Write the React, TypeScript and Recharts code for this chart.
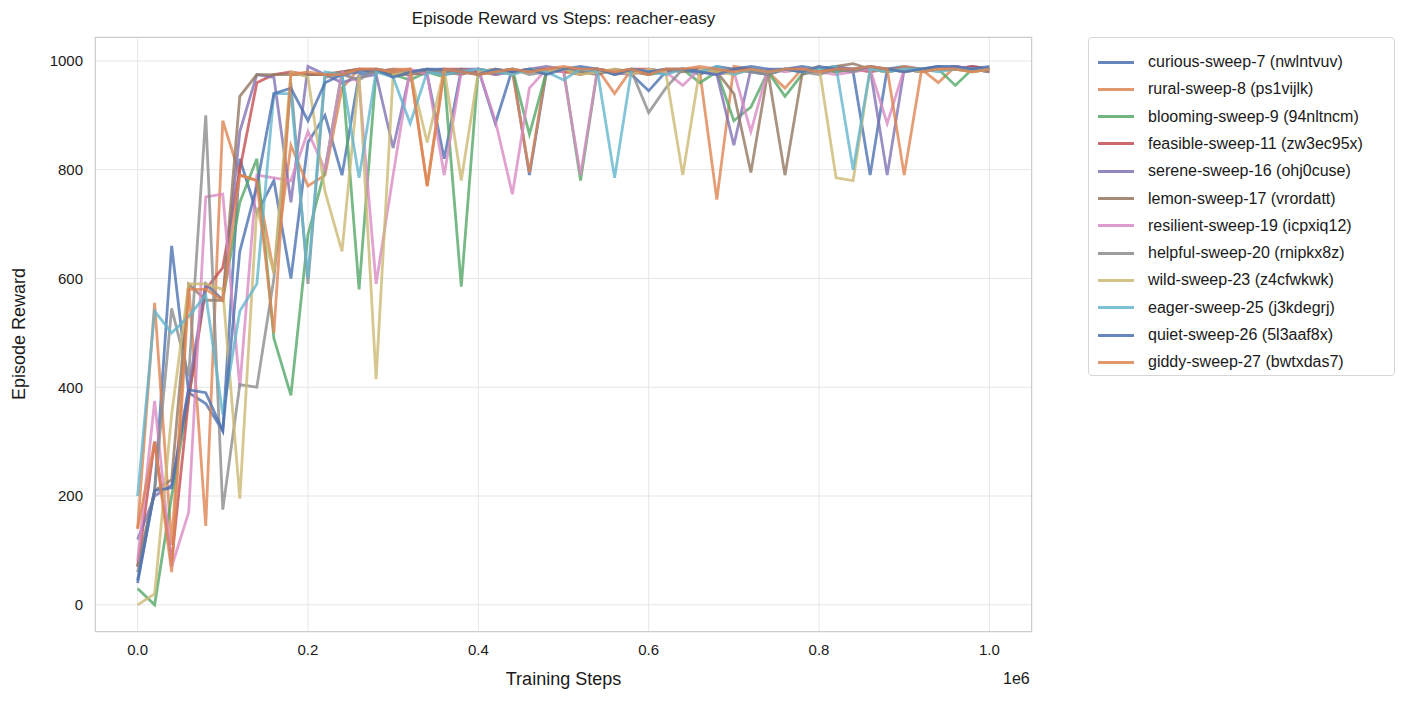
import React from "react";
import { LineChart, Line, XAxis, YAxis, CartesianGrid } from "recharts";

const steps = Array.from({ length: 51 }, (_, i) => i * 20000);
const xTicks = [0, 200000, 400000, 600000, 800000, 1000000];
const yTicks = [0, 200, 400, 600, 800, 1000];

const runNames = [
  "curious-sweep-7 (nwlntvuv)",
  "rural-sweep-8 (ps1vijlk)",
  "blooming-sweep-9 (94nltncm)",
  "feasible-sweep-11 (zw3ec95x)",
  "serene-sweep-16 (ohj0cuse)",
  "lemon-sweep-17 (vrordatt)",
  "resilient-sweep-19 (icpxiq12)",
  "helpful-sweep-20 (rnipkx8z)",
  "wild-sweep-23 (z4cfwkwk)",
  "eager-sweep-25 (j3kdegrj)",
  "quiet-sweep-26 (5l3aaf8x)",
  "giddy-sweep-27 (bwtxdas7)",
];

const colors = [
  "#4C72B0", "#DD8452", "#55A868", "#C44E52", "#8172B3", "#937860",
  "#DA8BC3", "#8C8C8C", "#CCB974", "#64B5CD", "#4C72B0", "#DD8452",
];

const curious = [40,210,660,390,370,320,820,720,780,600,850,900,790,975,980,985,980,975,820,985,985,885,985,790,980,985,975,985,980,975,945,980,985,975,990,985,980,975,985,990,985,985,980,790,985,990,985,990,985,990,985];
const rural = [140,555,110,590,145,890,790,780,610,845,770,790,950,985,980,985,985,770,980,985,980,975,980,795,985,980,975,985,940,985,980,985,985,980,745,990,985,980,950,985,985,980,985,985,980,990,985,960,990,985,985];
const blooming = [30,0,200,380,590,560,740,820,490,385,680,800,980,580,980,975,965,980,970,585,985,980,985,865,980,985,780,985,980,985,975,980,985,960,980,890,915,980,935,975,985,980,985,985,980,985,985,985,955,985,985];
const feasible = [70,300,80,380,580,620,800,960,975,980,975,975,980,985,985,980,975,980,985,985,980,985,980,985,985,980,985,985,980,985,985,980,985,985,980,985,985,980,985,985,980,985,985,980,985,985,980,985,985,990,985];
const serene = [120,200,220,400,590,560,870,975,970,740,990,975,960,970,975,840,980,985,975,980,985,975,980,985,990,985,980,985,980,975,985,980,985,980,975,845,985,980,985,980,985,990,985,985,790,985,985,985,990,985,980];
const lemon = [70,210,230,590,560,560,935,975,975,975,975,975,980,985,980,975,975,985,980,975,985,980,985,980,985,985,980,975,985,980,975,985,980,985,980,940,795,980,790,975,985,990,995,985,985,980,985,985,985,985,980];
const resilient = [80,375,70,170,750,755,400,790,785,780,870,800,980,960,590,790,985,975,790,980,985,890,755,950,985,980,790,985,980,975,985,980,955,985,975,980,870,985,980,985,980,975,980,985,885,985,980,985,990,985,985];
const helpful = [60,210,545,420,900,175,405,400,600,960,590,970,975,965,985,980,975,985,980,985,975,980,985,975,980,985,980,985,975,980,905,950,985,980,985,985,980,975,985,980,975,985,980,990,985,985,980,985,985,980,985];
const wild = [0,20,350,590,590,580,195,730,610,980,970,760,650,975,415,975,980,850,985,780,980,985,975,985,980,985,975,980,985,975,985,980,790,985,980,975,985,980,985,980,990,785,780,985,980,985,980,985,985,980,985];
const eager = [200,540,500,530,570,350,540,590,940,940,600,980,975,785,980,970,885,980,975,980,985,980,975,985,980,965,985,980,785,985,980,975,985,980,990,975,985,980,985,980,985,990,800,985,980,985,985,980,985,985,985];
const quiet = [45,210,215,395,390,320,650,770,940,950,890,960,975,980,985,970,980,985,985,980,975,985,980,985,975,985,990,985,975,985,980,985,985,980,975,985,990,985,985,980,990,985,985,990,985,980,985,990,990,985,990];
const giddy = [140,300,60,580,580,560,790,780,500,975,980,975,975,985,985,980,985,770,985,980,975,980,985,980,985,990,985,985,980,985,975,985,985,990,985,980,985,980,985,985,980,985,985,990,985,790,980,985,985,980,985];

const series = [curious, rural, blooming, feasible, serene, lemon, resilient, helpful, wild, eager, quiet, giddy];

const data = steps.map((s, i) => {
  const row: Record<string, number> = { step: s };
  series.forEach((vals, k) => {
    row["s" + k] = vals[i];
  });
  return row;
});

const font = "'Liberation Sans', Arial, sans-serif";

const App = () => {
  return (
    <div style={{ position: "absolute", left: 0, top: 0, width: 1413, height: 703, fontFamily: font, color: "#1a1a1a" }}>
      <LineChart width={1413} height={703} data={data} margin={{ top: 37, right: 381, bottom: 0, left: 0 }}>
        <CartesianGrid stroke="#e6e6e6" />
        <XAxis
          dataKey="step"
          type="number"
          domain={[-50000, 1050000]}
          ticks={xTicks}
          tickFormatter={(v: number) => (v / 1e6).toFixed(1)}
          height={71}
          axisLine={false}
          tickLine={false}
          tick={{ fill: "#1a1a1a", fontSize: 15, fontFamily: font }}
          tickMargin={6}
        />
        <YAxis
          type="number"
          domain={[-50, 1044]}
          ticks={yTicks}
          width={95}
          axisLine={false}
          tickLine={false}
          tick={{ fill: "#1a1a1a", fontSize: 15, fontFamily: font }}
          tickMargin={6}
        />
        {series.map((_, k) => (
          <Line
            key={k}
            dataKey={"s" + k}
            stroke={colors[k]}
            strokeOpacity={0.8}
            strokeWidth={2.8}
            dot={false}
            isAnimationActive={false}
          />
        ))}
      </LineChart>
      <div style={{ position: "absolute", left: 95, top: 37, width: 937, height: 595, border: "1.5px solid #cccccc", boxSizing: "border-box", pointerEvents: "none" }} />
      <div style={{ position: "absolute", left: 95, width: 937, top: 9, textAlign: "center", fontSize: 17 }}>Episode Reward vs Steps: reacher-easy</div>
      <div style={{ position: "absolute", left: 95, width: 937, top: 669, textAlign: "center", fontSize: 18 }}>Training Steps</div>
      <div style={{ position: "absolute", left: 1003, top: 670, fontSize: 16 }}>1e6</div>
      <div style={{ position: "absolute", left: 19, top: 334, fontSize: 18, transform: "translate(-50%, -50%) rotate(-90deg)", whiteSpace: "nowrap" }}>Episode Reward</div>
      <div style={{ position: "absolute", left: 1088, top: 37, width: 307, height: 339, border: "1px solid #d6d6d6", borderRadius: 4, boxSizing: "border-box", background: "#fff" }}>
        {runNames.map((name, k) => (
          <div key={k} style={{ position: "absolute", left: 9, top: 14 + k * 27.3, height: 20, display: "flex", alignItems: "center" }}>
            <div style={{ width: 36, height: 0, borderTop: `3px solid ${colors[k]}`, opacity: 0.85 }} />
            <span style={{ marginLeft: 14, fontSize: 16, whiteSpace: "nowrap" }}>{name}</span>
          </div>
        ))}
      </div>
    </div>
  );
};

export default App;
